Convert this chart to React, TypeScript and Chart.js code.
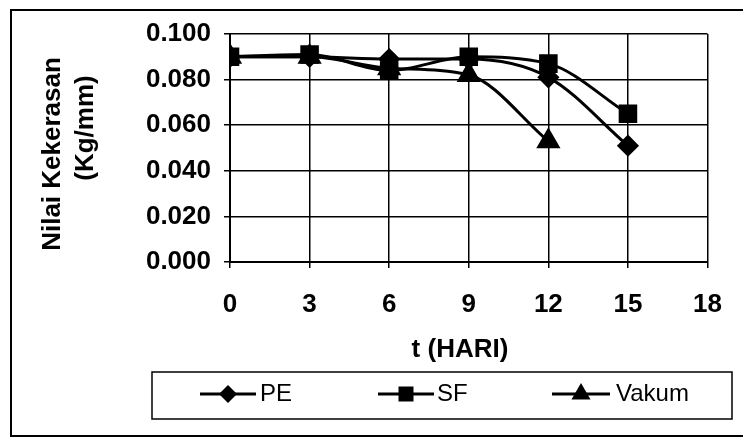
import React, { useEffect, useRef } from 'react';
import { Chart, registerables } from 'chart.js';

Chart.register(...registerables);

// ---- data ----
const days = [0, 3, 6, 9, 12, 15];
const peValues = [0.09, 0.09, 0.089, 0.089, 0.081, 0.051];
const sfValues = [0.09, 0.091, 0.084, 0.09, 0.087, 0.065];
const vakumDays = [0, 3, 6, 9, 12];
const vakumValues = [0.09, 0.09, 0.085, 0.082, 0.053];
const seriesNames = ['PE', 'SF', 'Vakum'];
const xTitle = 't (HARI)';
const yTitleLines = ['Nilai Kekerasan', '(Kg/mm)'];
const xMin = 0;
const xMax = 18;
const xStep = 3;
const yMin = 0;
const yMax = 0.1;
const yStep = 0.02;

const FONT = '"Liberation Sans", Arial, sans-serif';

function drawMarker(ctx: CanvasRenderingContext2D, kind: string, x: number, y: number) {
  ctx.beginPath();
  if (kind === 'diamond') {
    const r = 9;
    ctx.moveTo(x, y - r);
    ctx.lineTo(x + r, y);
    ctx.lineTo(x, y + r);
    ctx.lineTo(x - r, y);
  } else if (kind === 'square') {
    const s = 7.5;
    ctx.rect(x - s, y - s, 2 * s, 2 * s);
  } else {
    const r = 11;
    ctx.moveTo(x, y - r);
    ctx.lineTo(x + r * 0.866, y + r / 2);
    ctx.lineTo(x - r * 0.866, y + r / 2);
  }
  ctx.closePath();
  ctx.fill();
}

const decorPlugin = {
  id: 'decor',
  afterDraw(chart: any) {
    const ctx: CanvasRenderingContext2D = chart.ctx;
    ctx.save();
    ctx.strokeStyle = '#000';
    ctx.fillStyle = '#000';

    // outer frame
    ctx.lineWidth = 2;
    ctx.beginPath();
    ctx.moveTo(743, 10);
    ctx.lineTo(11, 10);
    ctx.lineTo(11, 436);
    ctx.lineTo(743, 436);
    ctx.stroke();

    // y title (rotated)
    ctx.font = `bold 26px ${FONT}`;
    ctx.textAlign = 'center';
    ctx.textBaseline = 'alphabetic';
    const yPos = [
      [60, 154],
      [93, 128],
    ];
    yTitleLines.forEach((t, i) => {
      ctx.save();
      ctx.translate(yPos[i][0], yPos[i][1]);
      ctx.rotate(-Math.PI / 2);
      ctx.fillText(t, 0, 0);
      ctx.restore();
    });

    // x title
    ctx.fillText(xTitle, 460, 357);

    // legend box
    ctx.lineWidth = 1.5;
    ctx.strokeRect(152, 372, 580, 47);
    const items = [
      { kind: 'diamond', x0: 200, x1: 256, tx: 260 },
      { kind: 'square', x0: 378, x1: 434, tx: 437 },
      { kind: 'triangle', x0: 552, x1: 610, tx: 616 },
    ];
    const ly = 394;
    ctx.font = `24px ${FONT}`;
    ctx.textAlign = 'left';
    items.forEach((it, i) => {
      ctx.lineWidth = 3;
      ctx.beginPath();
      ctx.moveTo(it.x0, ly);
      ctx.lineTo(it.x1, ly);
      ctx.stroke();
      drawMarker(ctx, it.kind, (it.x0 + it.x1) / 2, ly);
      ctx.fillText(seriesNames[i], it.tx, 401);
    });
    ctx.restore();
  },
};

export default function App() {
  const ref = useRef<HTMLCanvasElement | null>(null);

  useEffect(() => {
    if (!ref.current) return;
    const mk = (xs: number[], ys: number[]) => xs.map((x, i) => ({ x, y: ys[i] }));
    const common = {
      borderColor: '#000',
      backgroundColor: '#000',
      pointBackgroundColor: '#000',
      pointBorderColor: '#000',
      borderWidth: 3,
      cubicInterpolationMode: 'monotone' as const,
      fill: false,
    };
    const chart = new Chart(ref.current, {
      type: 'line',
      data: {
        datasets: [
          { ...common, label: seriesNames[0], data: mk(days, peValues), pointStyle: 'rectRot', pointRadius: 9 },
          { ...common, label: seriesNames[1], data: mk(days, sfValues), pointStyle: 'rect', pointRadius: 11 },
          { ...common, label: seriesNames[2], data: mk(vakumDays, vakumValues), pointStyle: 'triangle', pointRadius: 11 },
        ],
      },
      options: {
        animation: false,
        responsive: false,
        devicePixelRatio: 1,
        layout: { padding: { left: 0, top: 34, right: 35, bottom: 0 } },
        plugins: { legend: { display: false }, tooltip: { enabled: false } },
        scales: {
          x: {
            type: 'linear',
            min: xMin,
            max: xMax,
            ticks: {
              stepSize: xStep,
              color: '#000',
              padding: 21,
              font: { family: FONT, size: 26, weight: 'bold' },
            },
            grid: { color: '#000', lineWidth: 1.5, tickLength: 6 },
            border: { color: '#000', width: 2 },
            afterFit: (s: any) => {
              s.height = 182;
            },
          },
          y: {
            min: yMin,
            max: yMax,
            ticks: {
              stepSize: yStep,
              color: '#000',
              padding: 13,
              font: { family: FONT, size: 26, weight: 'bold' },
              callback: (v: any) => Number(v).toFixed(3),
            },
            grid: { color: '#000', lineWidth: 1.5, tickLength: 6 },
            border: { color: '#000', width: 2 },
            afterFit: (s: any) => {
              s.width = 230;
            },
          },
        },
      },
      plugins: [decorPlugin],
    });
    return () => chart.destroy();
  }, []);

  return (
    <div style={{ position: 'fixed', left: 0, top: 0, width: 743, height: 444, background: '#fff' }}>
      <canvas ref={ref} width={743} height={444} style={{ display: 'block' }} />
    </div>
  );
}
